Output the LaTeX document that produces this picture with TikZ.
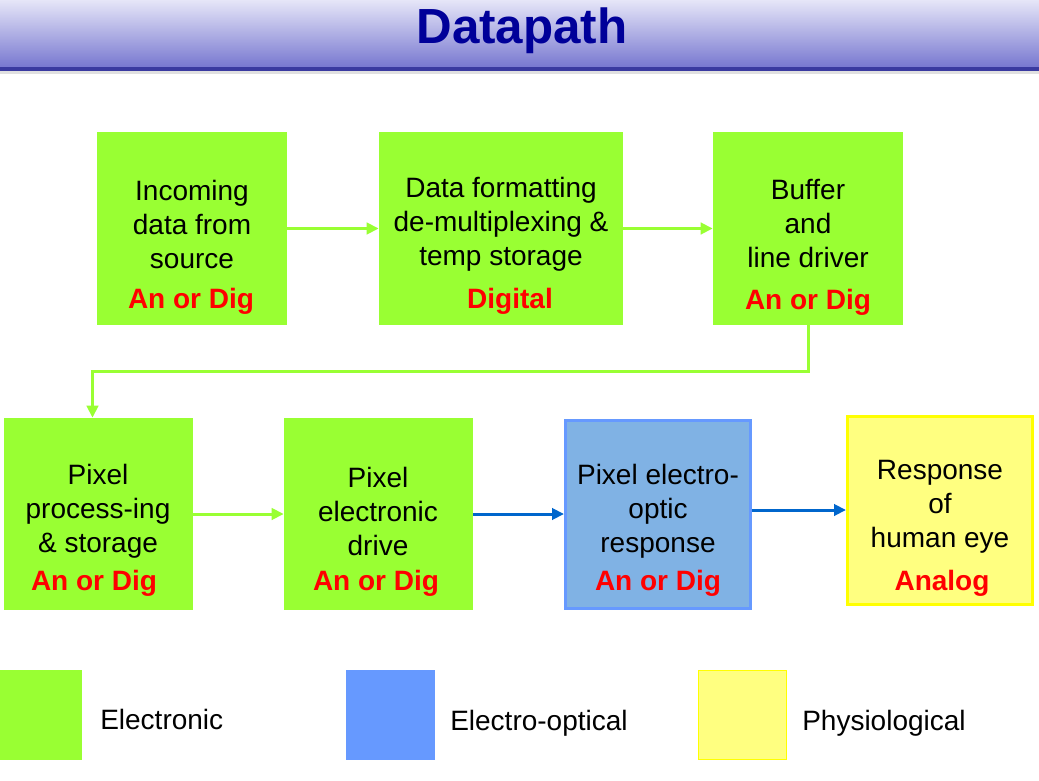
\documentclass[tikz,border=0pt]{standalone}
\usepackage{fontspec}
\setmainfont{Liberation Sans}
\usetikzlibrary{arrows.meta,positioning}
\definecolor{egreen}{HTML}{99FF33}
\definecolor{eoblue}{HTML}{6699FF}
\definecolor{eofill}{HTML}{80B2E4}
\definecolor{phyel}{HTML}{FFFF80}
\definecolor{phyedge}{HTML}{FFFF00}
\definecolor{arrblue}{HTML}{0066CC}
\definecolor{titleblue}{HTML}{000099}
\definecolor{bandtop}{HTML}{E6E6F8}
\definecolor{bandbot}{HTML}{7878D0}
\definecolor{bandline}{HTML}{3A3AA0}
\begin{document}
\begin{tikzpicture}[x=0.75pt,y=-0.75pt,
  gbox/.style={rectangle,fill=egreen,draw=none,inner sep=0pt},
  bbox/.style={rectangle,fill=eofill,draw=eoblue,line width=2.25pt,inner sep=0pt},
  ybox/.style={rectangle,fill=phyel,draw=phyedge,line width=2.25pt,inner sep=0pt},
  txt/.style={align=center,font=\fontsize{21pt}{25.5pt}\selectfont,text=black,inner sep=0pt},
  red/.style={font=\fontsize{21pt}{24pt}\selectfont\bfseries,text=red,inner sep=0pt},
  leg/.style={font=\fontsize{21pt}{24pt}\selectfont,anchor=base west,inner sep=0pt},
  garrow/.style={draw=egreen,line width=2.25pt,-{Triangle[length=9pt,width=8.5pt]}},
  barrow/.style={draw=arrblue,line width=2.25pt,-{Triangle[length=9pt,width=8.5pt]}}]
\useasboundingbox (0,0) rectangle (1039,781);
% title band
\shade[top color=bandtop,bottom color=bandbot] (0,0) rectangle (1039,67);
\fill[black!12] (0,70) rectangle (1039,74);
\fill[bandline] (0,67) rectangle (1039,71);
\node[font=\fontsize{37pt}{40pt}\selectfont\bfseries,text=titleblue,inner sep=0pt] (title) at (522,31) {Datapath};
% boxes top row
\node[gbox,minimum width=142.5pt,minimum height=144.75pt] (b1) at (192,228.5) {};
\node[gbox,minimum width=183pt,minimum height=144.75pt] (b2) at (501,228.5) {};
\node[gbox,minimum width=142.5pt,minimum height=144.75pt] (b3) at (808,228.5) {};
% bottom row
\node[gbox,minimum width=141.75pt,minimum height=144pt] (b4) at (98.5,514) {};
\node[gbox,minimum width=141.75pt,minimum height=144pt] (b5) at (378.5,514) {};
\node[bbox,minimum width=138.75pt,minimum height=141pt] (b6) at (658,514) {};
\node[ybox,minimum width=138.75pt,minimum height=141pt] (b7) at (940,510) {};
% texts
\node[txt] (t1) at (192,224) {Incoming\\data from\\source};
\node[red] (r1) at (191,301) {An or Dig};
\node[txt] (t2) at (501,224) {Data formatting\\de-multiplexing \&\\temp storage};
\node[red] (r2) at (510,301) {Digital};
\node[txt] (t3) at (808,224) {Buffer\\and\\line driver};
\node[red] (r3) at (808,302) {An or Dig};
\node[txt] (t4) at (98,511) {Pixel\\process-ing\\\& storage};
\node[red] (r4) at (94,583) {An or Dig};
\node[txt] (t5) at (378,511) {Pixel\\electronic\\drive};
\node[red] (r5) at (376,583) {An or Dig};
\node[txt] (t6) at (658,511) {Pixel electro-\\optic\\response};
\node[red] (r6) at (658,583) {An or Dig};
\node[txt] (t7) at (940,507) {Response\\of\\human eye};
\node[red] (r7) at (942,583) {Analog};
% connectors
\draw[garrow] (b1.east) -- (b2.west);
\draw[garrow] (b2.east) -- (b3.west);
\draw[garrow] (b3.south) -- ++(0,46) -| ([xshift=-4.5pt]b4.north);
\draw[garrow] (b4.east) -- (b5.west);
\draw[barrow] (b5.east) -- (b6.west);
\draw[barrow] (b6.east |- b7.west) -- (b7.west);
% legend
\node[gbox,minimum width=61.5pt,minimum height=67.5pt] (l1) at (41,715) {};
\node[rectangle,fill=eoblue,inner sep=0pt,minimum width=66.75pt,minimum height=67.5pt] (l2) at (390.5,715) {};
\node[rectangle,fill=phyel,draw=phyedge,line width=0.75pt,inner sep=0pt,minimum width=66pt,minimum height=66.75pt] (l3) at (742.5,715) {};
\node[leg] (lt1) at (100,729) {Electronic};
\node[leg] (lt2) at (450,730) {Electro-optical};
\node[leg] (lt3) at (802,730) {Physiological};
\end{tikzpicture}
\end{document}
